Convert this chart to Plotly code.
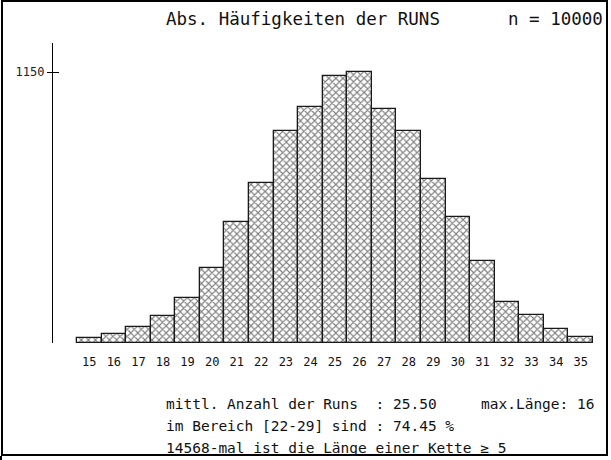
import plotly.graph_objects as go

runs = list(range(15, 36))
counts = [21, 38, 68, 115, 191, 318, 513, 679, 900, 1001, 1133, 1150,
          993, 900, 696, 535, 348, 174, 119, 59, 25]
tick_labels = [str(r) for r in runs]

title_left = "Abs. Häufigkeiten der RUNS"
title_right = "n = 10000"
info_lines = [
    "mittl. Anzahl der Runs  : 25.50",
    "im Bereich [22-29] sind : 74.45 %",
    "14568-mal ist die Länge einer Kette ≥ 5",
]
info_right = "max.Länge: 16"

W, H = 611, 460
FONT = "DejaVu Sans Mono"

def px(x):
    return x / W

def py(y):
    return 1 - y / H

fig = go.Figure()
fig.add_trace(go.Bar(
    x=runs, y=counts,
    marker=dict(color="white",
                line=dict(color="#1a1a1a", width=1.3),
                pattern=dict(shape="x", fgcolor="#000000", bgcolor="white",
                             size=5, solidity=0.4)),
    width=1.0,
))
# invisible twin for crossing tick
fig.add_trace(go.Scatter(x=[runs[0]], y=[0], yaxis="y2", mode="markers",
                         marker=dict(opacity=0), showlegend=False,
                         hoverinfo="skip"))

bar_left, bar_right = 77, 593
axis_x = 53
per = (bar_right - bar_left) / len(runs)
x0 = runs[0] - 0.5 - (bar_left - axis_x) / per
x1 = runs[-1] + 0.5
base_y, top_y, tick_y = 343, 43, 72
ymax = 1150 * (base_y - top_y) / (base_y - tick_y)

fig.update_layout(
    width=W, height=H,
    margin=dict(l=0, r=0, t=0, b=0),
    paper_bgcolor="white", plot_bgcolor="white",
    showlegend=False, bargap=0,
    font=dict(family=FONT, color="black"),
    xaxis=dict(domain=[px(axis_x), px(bar_right)], range=[x0, x1],
               tickmode="array", tickvals=runs, ticktext=tick_labels,
               showgrid=False, zeroline=False, showline=False,
               ticks="outside", ticklen=8, tickcolor="rgba(0,0,0,0)",
               tickfont=dict(family=FONT, size=12, color="#111")),
    yaxis=dict(domain=[py(base_y), py(top_y)], range=[0, ymax],
               showgrid=False, zeroline=False, showline=True,
               linecolor="black", linewidth=1.2,
               tickmode="array", tickvals=[1150], ticktext=["1150"],
               ticks="outside", ticklen=5, tickcolor="black", tickwidth=1,
               tickfont=dict(family=FONT, size=12, color="#222")),
    yaxis2=dict(domain=[py(base_y), py(top_y)], range=[0, ymax],
                overlaying="y", side="left", anchor="x",
                showgrid=False, zeroline=False, showline=False,
                tickmode="array", tickvals=[1150], ticktext=[""],
                ticks="inside", ticklen=6, tickcolor="black", tickwidth=1,
                showticklabels=False),
)

fig.add_shape(type="rect", xref="paper", yref="paper",
              x0=px(2), x1=px(607), y0=py(455), y1=py(1),
              line=dict(color="black", width=2), fillcolor="rgba(0,0,0,0)")
fig.add_shape(type="rect", xref="paper", yref="paper",
              x0=0, x1=px(2), y0=py(460), y1=py(456),
              line=dict(width=0), fillcolor="black")

ann = []
ann.append(dict(text=title_left, x=px(164), y=py(19), xanchor="left",
                yanchor="middle", font=dict(size=17.5)))
ann.append(dict(text=title_right, x=px(605), y=py(19), xanchor="right",
                yanchor="middle", font=dict(size=17.5)))
for i, line in enumerate(info_lines):
    ann.append(dict(text=line, x=px(164), y=py(404 + 22 * i),
                    xanchor="left", yanchor="middle", font=dict(size=14.5)))
ann.append(dict(text=info_right, x=px(597), y=py(404), xanchor="right",
                yanchor="middle", font=dict(size=14.5)))
for a in ann:
    a.update(xref="paper", yref="paper", showarrow=False)
    a["font"].update(family=FONT, color="#111111")
fig.update_layout(annotations=ann)

fig.write_html(
    "out.html",
    config={"displayModeBar": False},
    post_script="document.body.style.margin='0';document.body.style.overflow='hidden';",
)
